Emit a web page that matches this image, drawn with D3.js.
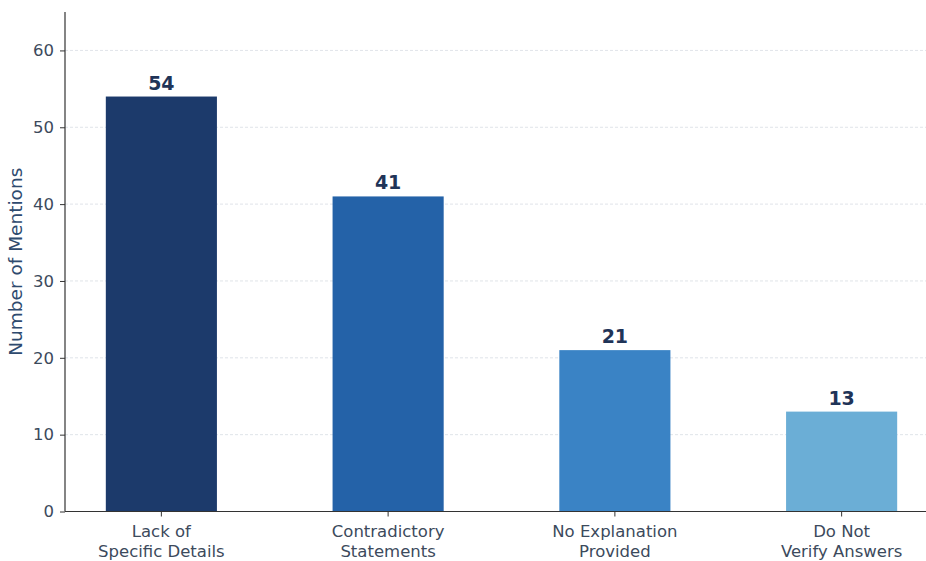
<!DOCTYPE html>
<html>
<head>
<meta charset="utf-8">
<script src="https://cdn.jsdelivr.net/npm/d3@7"></script>
<style>
  html, body { margin: 0; padding: 0; background: #fff; }
  svg { display: block; font-family: "DejaVu Sans", sans-serif; }
</style>
</head>
<body>
<svg id="chart" width="926" height="561"></svg>
<script>
// Categories (two-line labels) and mention counts
const categories = [
  ["Lack of", "Specific Details"],
  ["Contradictory", "Statements"],
  ["No Explanation", "Provided"],
  ["Do Not", "Verify Answers"]
];
const mentions = [54, 41, 21, 13];
const barColors = ["#1c3a6b", "#2462a8", "#3a83c5", "#6baed6"];
const yTicks = [0, 10, 20, 30, 40, 50, 60];

const svg = d3.select("#chart");
const plotLeft = 65, plotRight = 938, plotTop = 12, plotBottom = 511.5;

const keys = categories.map(c => c.join(" "));
const x = d3.scaleBand().domain(keys).range([plotLeft, plotRight])
  .paddingInner(0.51).paddingOuter(0.18);
const y = d3.scaleLinear().domain([0, 65]).range([plotBottom, plotTop]);

// dashed horizontal grid
svg.append("g")
  .selectAll("line")
  .data(yTicks.filter(d => d > 0))
  .join("line")
  .attr("x1", plotLeft).attr("x2", 926)
  .attr("y1", d => y(d)).attr("y2", d => y(d))
  .attr("stroke", "#d8dde3")
  .attr("stroke-width", 0.8)
  .attr("stroke-dasharray", "3,2");

// bars
svg.append("g")
  .selectAll("rect")
  .data(mentions)
  .join("rect")
  .attr("x", (d, i) => x(keys[i]))
  .attr("width", x.bandwidth())
  .attr("y", d => y(d))
  .attr("height", d => y(0) - y(d))
  .attr("fill", (d, i) => barColors[i]);

// value labels
svg.append("g")
  .selectAll("text")
  .data(mentions)
  .join("text")
  .attr("x", (d, i) => x(keys[i]) + x.bandwidth() / 2)
  .attr("y", d => y(d) - 7)
  .attr("text-anchor", "middle")
  .attr("font-size", 19)
  .attr("font-weight", "bold")
  .attr("fill", "#1f3458")
  .text(d => d);

// y axis
const yAxis = svg.append("g")
  .attr("transform", `translate(${plotLeft},0)`)
  .call(d3.axisLeft(y).tickValues(yTicks).tickSize(5).tickPadding(6));
yAxis.select(".domain").attr("stroke", "#333").attr("stroke-width", 1.2)
  .attr("d", `M0,${plotTop}V${plotBottom}`);
yAxis.selectAll(".tick line").attr("stroke", "#333");
yAxis.selectAll(".tick text")
  .attr("font-size", 16.5).attr("fill", "#3c4a5c")
  .attr("font-family", "DejaVu Sans, sans-serif");

// x axis
const xAxis = svg.append("g")
  .attr("transform", `translate(0,${plotBottom})`)
  .call(d3.axisBottom(x).tickSize(5).tickFormat(""));
xAxis.select(".domain").attr("stroke", "#333").attr("stroke-width", 1.2)
  .attr("d", `M${plotLeft},0H${plotRight}`);
xAxis.selectAll(".tick line").attr("stroke", "#333");

// two-line category labels
const lab = svg.append("g")
  .selectAll("text")
  .data(categories)
  .join("text")
  .attr("text-anchor", "middle")
  .attr("font-size", 16.5)
  .attr("fill", "#3c4a5c");
lab.each(function(c, i) {
  const cx = x(keys[i]) + x.bandwidth() / 2;
  d3.select(this).selectAll("tspan")
    .data(c)
    .join("tspan")
    .attr("x", cx)
    .attr("y", (t, j) => 537 + j * 19.5)
    .text(t => t);
});

// y axis title
svg.append("text")
  .attr("transform", `translate(22,${(plotTop + plotBottom) / 2}) rotate(-90)`)
  .attr("text-anchor", "middle")
  .attr("font-size", 18.5)
  .attr("fill", "#2e4a6e")
  .text("Number of Mentions");
</script>
</body>
</html>
